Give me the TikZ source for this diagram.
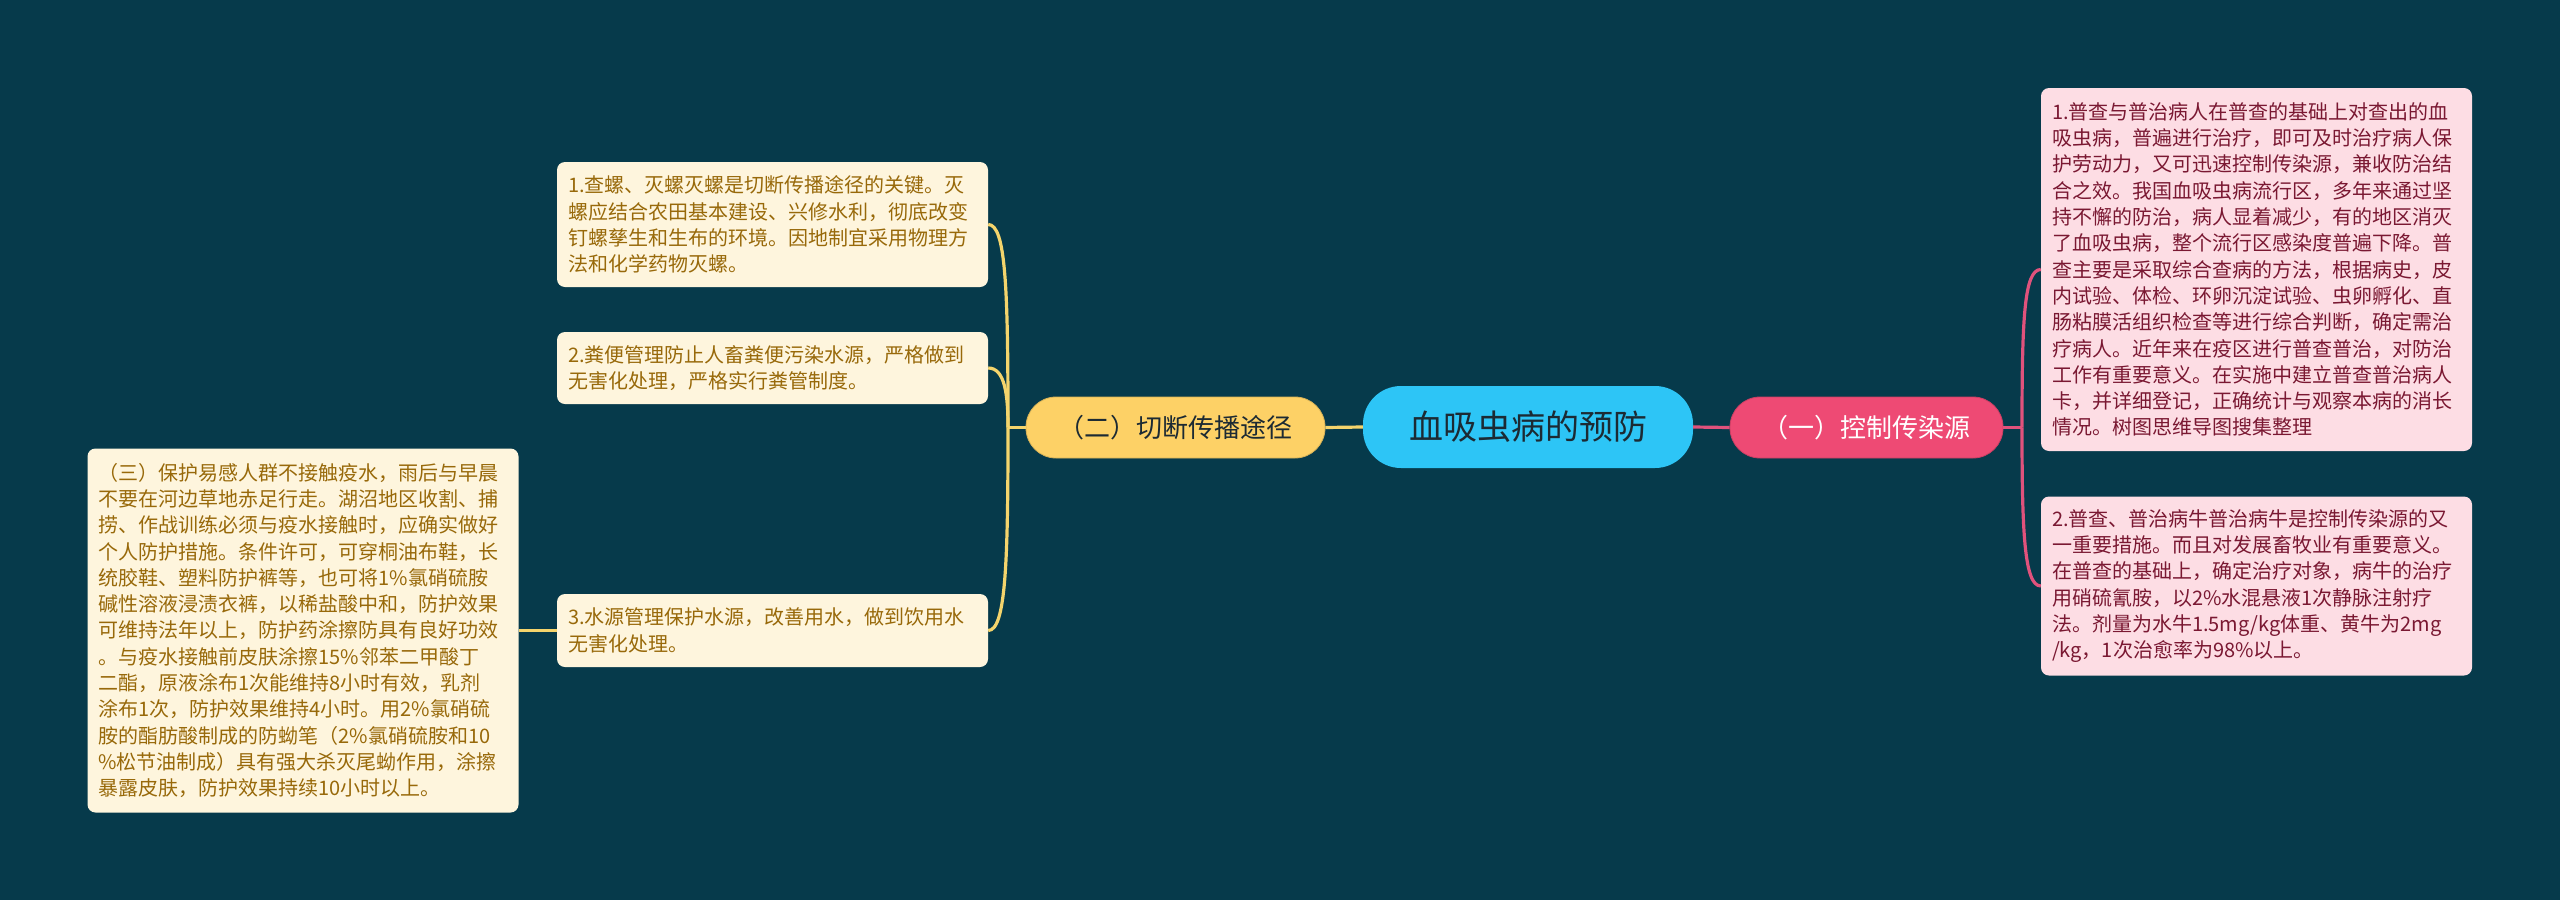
\documentclass[tikz,border=0pt]{standalone}
\usepackage{fontspec}
\setmainfont{Noto Sans CJK SC}
\definecolor{bg}{HTML}{063A4B}
\definecolor{cyanC}{HTML}{2DC5F6}
\definecolor{ctext}{HTML}{1C2A33}
\definecolor{yelN}{HTML}{FDD166}
\definecolor{yelL}{HTML}{F4D46C}
\definecolor{yelBox}{HTML}{FEF5DD}
\definecolor{yelText}{HTML}{98690A}
\definecolor{pinkN}{HTML}{EE4A74}
\definecolor{pinkL}{HTML}{E0527C}
\definecolor{pinkBox}{HTML}{FDDDE4}
\definecolor{pinkText}{HTML}{7A1832}
\tikzset{
  centernode/.style={fill=cyanC, rounded corners=38pt, minimum width=330pt, minimum height=82pt,
    inner sep=0pt, text=ctext, font=\fontsize{34}{40}\selectfont},
  branchY/.style={fill=yelN, draw=yelN!85!black, line width=0.8pt, rounded corners=30pt, minimum width=299pt,
    minimum height=61pt, inner sep=0pt, text=ctext, font=\fontsize{26}{30}\selectfont},
  branchP/.style={fill=pinkN, draw=pinkN!85!black, line width=0.8pt, rounded corners=30pt, minimum width=273pt,
    minimum height=61pt, inner sep=0pt, text=white, font=\fontsize{26}{30}\selectfont},
  textbox/.style={rounded corners=8pt, text width=409pt, inner xsep=11pt, inner ysep=0pt,
    align=left, font=\fontsize{20}{26.3}\selectfont},
  lbox/.style={textbox, fill=yelBox, text=yelText},
  rbox/.style={textbox, fill=pinkBox, text=pinkText},
  ylink/.style={draw=yelL, line width=3.2pt},
  plink/.style={draw=pinkL, line width=3.2pt},
}
\begin{document}
\begin{tikzpicture}[x=1pt,y=-1pt]
\fill[bg] (0,0) rectangle (2560,900);
\useasboundingbox (0,0) rectangle (2560,900);

% connectors first (behind nodes)
\coordinate (lj) at (1008,427.5);
\coordinate (rj) at (2022,427.5);

\node[centernode] (c) at (1528,427) {血吸虫病的预防};
\node[branchY] (l) at (1175.5,427.5) {（二）切断传播途径};
\node[branchP] (r) at (1866.5,427.5) {（一）控制传染源};

\node[lbox, minimum height=125pt] (l1) at (772.5,224.5) {1.查螺、灭螺灭螺是切断传播途径的关键。灭\\螺应结合农田基本建设、兴修水利，彻底改变\\钉螺孳生和生布的环境。因地制宜采用物理方\\法和化学药物灭螺。};
\node[lbox, minimum height=72pt] (l2) at (772.5,368) {2.粪便管理防止人畜粪便污染水源，严格做到\\无害化处理，严格实行粪管制度。};
\node[lbox, minimum height=73pt] (l3) at (772.5,630.5) {3.水源管理保护水源，改善用水，做到饮用水\\无害化处理。};
\node[lbox, minimum height=364pt] (l4) at (303,630.5) {（三）保护易感人群不接触疫水，雨后与早晨\\不要在河边草地赤足行走。湖沼地区收割、捕\\捞、作战训练必须与疫水接触时，应确实做好\\个人防护措施。条件许可，可穿桐油布鞋，长\\统胶鞋、塑料防护裤等，也可将1\%氯硝硫胺\\碱性溶液浸渍衣裤，以稀盐酸中和，防护效果\\可维持法年以上，防护药涂擦防具有良好功效\\。与疫水接触前皮肤涂擦15\%邻苯二甲酸丁\\二酯，原液涂布1次能维持8小时有效，乳剂\\涂布1次，防护效果维持4小时。用2\%氯硝硫\\胺的酯肪酸制成的防蚴笔（2\%氯硝硫胺和10\\\%松节油制成）具有强大杀灭尾蚴作用，涂擦\\暴露皮肤，防护效果持续10小时以上。};

\node[rbox, minimum height=363pt] (r1) at (2256.5,269.5) {1.普查与普治病人在普查的基础上对查出的血\\吸虫病，普遍进行治疗，即可及时治疗病人保\\护劳动力，又可迅速控制传染源，兼收防治结\\合之效。我国血吸虫病流行区，多年来通过坚\\持不懈的防治，病人显着减少，有的地区消灭\\了血吸虫病，整个流行区感染度普遍下降。普\\查主要是采取综合查病的方法，根据病史，皮\\内试验、体检、环卵沉淀试验、虫卵孵化、直\\肠粘膜活组织检查等进行综合判断，确定需治\\疗病人。近年来在疫区进行普查普治，对防治\\工作有重要意义。在实施中建立普查普治病人\\卡，并详细登记，正确统计与观察本病的消长\\情况。树图思维导图搜集整理};
\node[rbox, minimum height=179pt] (r2) at (2256.5,586) {2.普查、普治病牛普治病牛是控制传染源的又\\一重要措施。而且对发展畜牧业有重要意义。\\在普查的基础上，确定治疗对象，病牛的治疗\\用硝硫氰胺，以2\%水混悬液1次静脉注射疗\\法。剂量为水牛1.5mg/kg体重、黄牛为2mg\\/kg，1次治愈率为98\%以上。};

\begin{scope}[on background layer/.try]
\end{scope}
\draw[ylink] (c.west) -- (l.east);
\draw[ylink] (l.west) -- (lj);
\draw[ylink] (lj) .. controls (1008,290) and (1006,224.5) .. (l1.east);
\draw[ylink] (lj) .. controls (1008,395) and (1005,368) .. (l2.east);
\draw[ylink] (lj) .. controls (1008,560) and (1006,630.5) .. (l3.east);
\draw[ylink] (l3.west) -- (l4.east);

\draw[plink] (c.east) -- (r.west);
\draw[plink] (r.east) -- (rj);
\draw[plink] (rj) .. controls (2022,320) and (2024,269.5) .. (r1.west);
\draw[plink] (rj) .. controls (2022,530) and (2024,586) .. (r2.west);
\end{tikzpicture}
\end{document}
